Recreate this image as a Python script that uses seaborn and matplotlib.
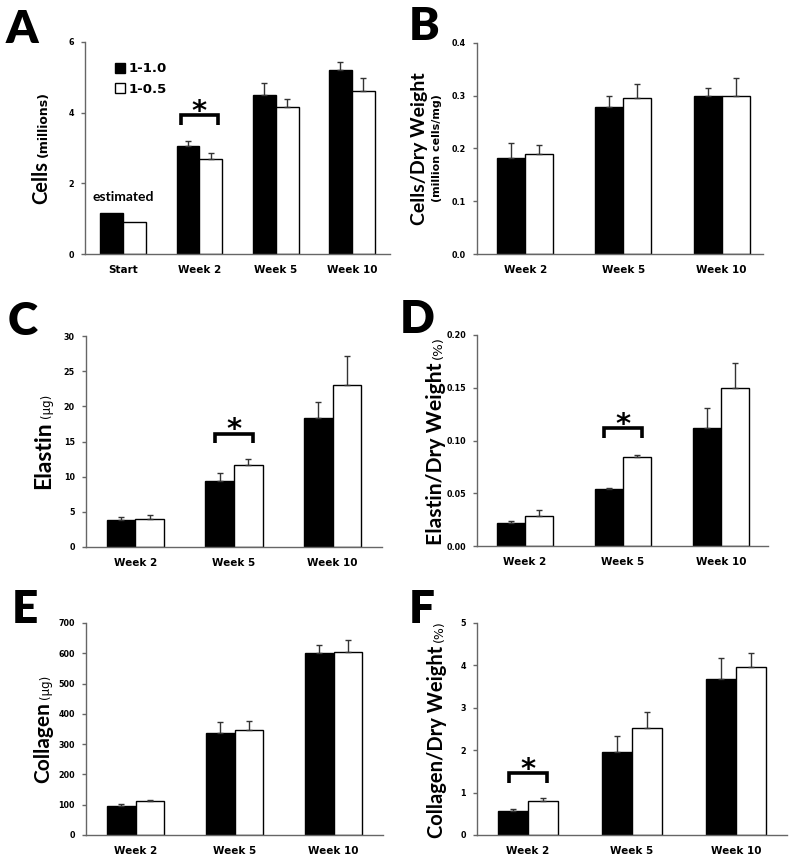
import numpy as np
import pandas as pd
import matplotlib.pyplot as plt
import seaborn as sns

sns.set_style("ticks")
plt.rcParams["font.family"] = ["DejaVu Sans"]
plt.rcParams["axes.edgecolor"] = "#666666"
plt.rcParams["text.color"] = "black"
plt.rcParams["axes.labelcolor"] = "black"

W, H = 795, 860

groups = ["1-1.0", "1-0.5"]
weeks_a = ["Start", "Week 2", "Week 5", "Week 10"]
weeks = ["Week 2", "Week 5", "Week 10"]

# A - cells (millions); no error bars for the estimated start
cells_hi = [1.17, 3.07, 4.49, 5.22]
cells_hi_err = [np.nan, 0.12, 0.36, 0.22]
cells_lo = [0.91, 2.69, 4.17, 4.62]
cells_lo_err = [np.nan, 0.16, 0.22, 0.37]

# B - cells / dry weight
cdw_hi = [0.182, 0.279, 0.300]
cdw_hi_err = [0.029, 0.020, 0.014]
cdw_lo = [0.190, 0.296, 0.299]
cdw_lo_err = [0.016, 0.026, 0.035]

# C - elastin (ug)
elastin_hi = [3.84, 9.44, 18.4]
elastin_hi_err = [0.43, 1.14, 2.2]
elastin_lo = [4.03, 11.72, 23.1]
elastin_lo_err = [0.53, 0.76, 4.1]

# D - elastin / dry weight (%)
edw_hi = [0.0221, 0.0537, 0.1118]
edw_hi_err = [0.0016, 0.0013, 0.019]
edw_lo = [0.0284, 0.0844, 0.150]
edw_lo_err = [0.0057, 0.0019, 0.023]

# E - collagen (ug)
collagen_hi = [97, 337, 600]
collagen_hi_err = [4, 35, 27]
collagen_lo = [111, 348, 603]
collagen_lo_err = [4, 29, 40]

# F - collagen / dry weight (%)
coldw_hi = [0.575, 1.95, 3.67]
coldw_hi_err = [0.035, 0.39, 0.50]
coldw_lo = [0.795, 2.535, 3.96]
coldw_lo_err = [0.071, 0.365, 0.33]

# significance: (category index, bracket level, star level)
sig_a = (1, 3.93, 4.25)
sig_c = (1, 16.1, 17.8)
sig_d = (1, 0.1115, 0.1226)
sig_f = (0, 1.46, 1.73)


def make_df(cats, hi, lo):
    return pd.DataFrame({
        "week": cats * 2,
        "group": [groups[0]] * len(cats) + [groups[1]] * len(cats),
        "value": list(hi) + list(lo),
    })


fig = plt.figure(figsize=(W / 100, H / 100), dpi=100)


def px_axes(left, top, right, bottom):
    return fig.add_axes([left / W, 1 - bottom / H, (right - left) / W, (bottom - top) / H])


def draw_panel(ax, cats, hi, hi_err, lo, lo_err, xlim, yticks, fmt, width):
    df = make_df(cats, hi, lo)
    sns.barplot(data=df, x="week", y="value", hue="group", order=cats,
                hue_order=groups, palette=["black", "white"], saturation=1,
                edgecolor="black", linewidth=1, width=width, errorbar=None,
                legend=(ax is axes["A"]), ax=ax)
    for cont, err in zip(ax.containers, [hi_err, lo_err]):
        for bar, e in zip(cont, err):
            if np.isnan(e):
                continue
            xc = bar.get_x() + bar.get_width() / 2
            ax.errorbar([xc], [bar.get_height()], yerr=[[0], [e]], fmt="none",
                        ecolor="#333333", elinewidth=1, capsize=2.5, capthick=1,
                        zorder=1)
    ax.set_xlim(*xlim)
    ax.set_ylim(yticks[0], yticks[-1])
    ax.set_yticks(yticks)
    ax.set_yticklabels([fmt.format(t) for t in yticks])
    ax.set_xlabel("")
    ax.set_ylabel("")
    sns.despine(ax=ax)
    ax.tick_params(axis="y", length=3, width=1, color="#666666", pad=5,
                   labelsize=5.8, labelcolor="black")
    ax.tick_params(axis="x", length=0, pad=8, labelsize=7.5, labelcolor="black")
    for lab in ax.get_xticklabels() + ax.get_yticklabels():
        lab.set_fontweight("bold")
    for sp in ax.spines.values():
        sp.set_linewidth(1)


def add_sig(ax, sig, half, drop_px=9.5):
    idx, level, star = sig
    # convert pixel drop to data units
    y0, y1 = ax.get_ylim()
    h_px = ax.get_position().height * H
    drop = drop_px * (y1 - y0) / h_px
    ax.plot([idx - half, idx - half, idx + half, idx + half],
            [level - drop, level, level, level - drop],
            color="black", lw=2.6, solid_capstyle="butt", solid_joinstyle="miter",
            zorder=3, clip_on=False)
    ax.annotate("*", xy=(idx, star), xytext=(0, -12), textcoords="offset points",
                ha="center", va="baseline", fontsize=21, fontweight="bold")


def ylabel_run(ax, parts, x_base, gap=4):
    texts = []
    for s, size, weight, fam in parts:
        t = fig.text(x_base / W, 0.5, s, rotation=90, rotation_mode="anchor",
                     ha="left", va="baseline", fontsize=size, fontweight=weight,
                     family=[fam, "DejaVu Sans"])
        texts.append(t)
    r = fig.canvas.get_renderer()
    lens = [t.get_window_extent(r).height for t in texts]
    total = sum(lens) + gap * (len(texts) - 1)
    pos = ax.get_position()
    y = (pos.y0 + pos.y1) / 2 * H - total / 2
    for t, L in zip(texts, lens):
        t.set_y(y / H)
        y += L + gap


def letter(s, x, y_base):
    fig.text(x / W, 1 - y_base / H, s, fontsize=33, fontweight="heavy",
             family=["Lato", "DejaVu Sans"], ha="left", va="baseline")


axes = {}
axes["A"] = px_axes(85, 42, 390, 254)
axes["B"] = px_axes(477, 43, 763, 254)
axes["C"] = px_axes(86, 336, 382, 547)
axes["D"] = px_axes(477, 335, 768, 546)
axes["E"] = px_axes(86, 623, 383, 835)
axes["F"] = px_axes(477, 623, 787, 835)

draw_panel(axes["A"], weeks_a, cells_hi, cells_hi_err, cells_lo, cells_lo_err,
           (-0.5, 3.5), [0, 2, 4, 6], "{:g}", 0.6)
draw_panel(axes["B"], weeks, cdw_hi, cdw_hi_err, cdw_lo, cdw_lo_err,
           (-0.49, 2.42), [0, 0.1, 0.2, 0.3, 0.4], "{:.1f}", 0.57)
draw_panel(axes["C"], weeks, elastin_hi, elastin_hi_err, elastin_lo, elastin_lo_err,
           (-0.5, 2.5), [0, 5, 10, 15, 20, 25, 30], "{:g}", 0.58)
draw_panel(axes["D"], weeks, edw_hi, edw_hi_err, edw_lo, edw_lo_err,
           (-0.49, 2.48), [0, 0.05, 0.10, 0.15, 0.20], "{:.2f}", 0.57)
draw_panel(axes["E"], weeks, collagen_hi, collagen_hi_err, collagen_lo, collagen_lo_err,
           (-0.5, 2.5), [0, 100, 200, 300, 400, 500, 600, 700], "{:g}", 0.58)
draw_panel(axes["F"], weeks, coldw_hi, coldw_hi_err, coldw_lo, coldw_lo_err,
           (-0.49, 2.49), [0, 1, 2, 3, 4, 5], "{:g}", 0.57)

# legend in panel A
leg = axes["A"].legend(loc="upper left", bbox_to_anchor=(0.06, 0.96), frameon=False,
                       handlelength=0.75, handleheight=0.75, handletextpad=0.3,
                       labelspacing=0.55, prop={"weight": "bold", "size": 9.5})
axes["A"].text(0, 1.62, "estimated", ha="center", va="center", fontsize=10,
               fontweight="bold", family=["Lato", "DejaVu Sans"])

add_sig(axes["A"], sig_a, 0.245)
add_sig(axes["C"], sig_c, 0.19)
add_sig(axes["D"], sig_d, 0.19)
add_sig(axes["F"], sig_f, 0.18)

ylabel_run(axes["A"], [("Cells", 14.5, "bold", "Lato"),
                       ("(millions)", 9, "bold", "DejaVu Sans")], 47)
ylabel_run(axes["B"], [("Cells/Dry Weight", 14, "bold", "Lato")], 425)
ylabel_run(axes["B"], [("(million cells/mg)", 8, "bold", "DejaVu Sans")], 440)
ylabel_run(axes["C"], [("Elastin", 16.5, "bold", "Lato"),
                       ("(µg)", 8.5, "normal", "DejaVu Sans")], 50, gap=3)
ylabel_run(axes["D"], [("Elastin/Dry Weight", 15.2, "bold", "Lato"),
                       ("(%)", 9.5, "normal", "DejaVu Sans")], 442)
ylabel_run(axes["E"], [("Collagen", 15, "bold", "Lato"),
                       ("(µg)", 8.5, "normal", "DejaVu Sans")], 49, gap=3)
ylabel_run(axes["F"], [("Collagen/Dry Weight", 14.5, "bold", "Lato"),
                       ("(%)", 9, "normal", "DejaVu Sans")], 443)

letter("A", 6, 43)
letter("B", 409, 40)
letter("C", 8, 335)
letter("D", 400, 333)
letter("E", 12, 623)
letter("F", 409, 623)

fig.savefig("out.png", dpi=100)
